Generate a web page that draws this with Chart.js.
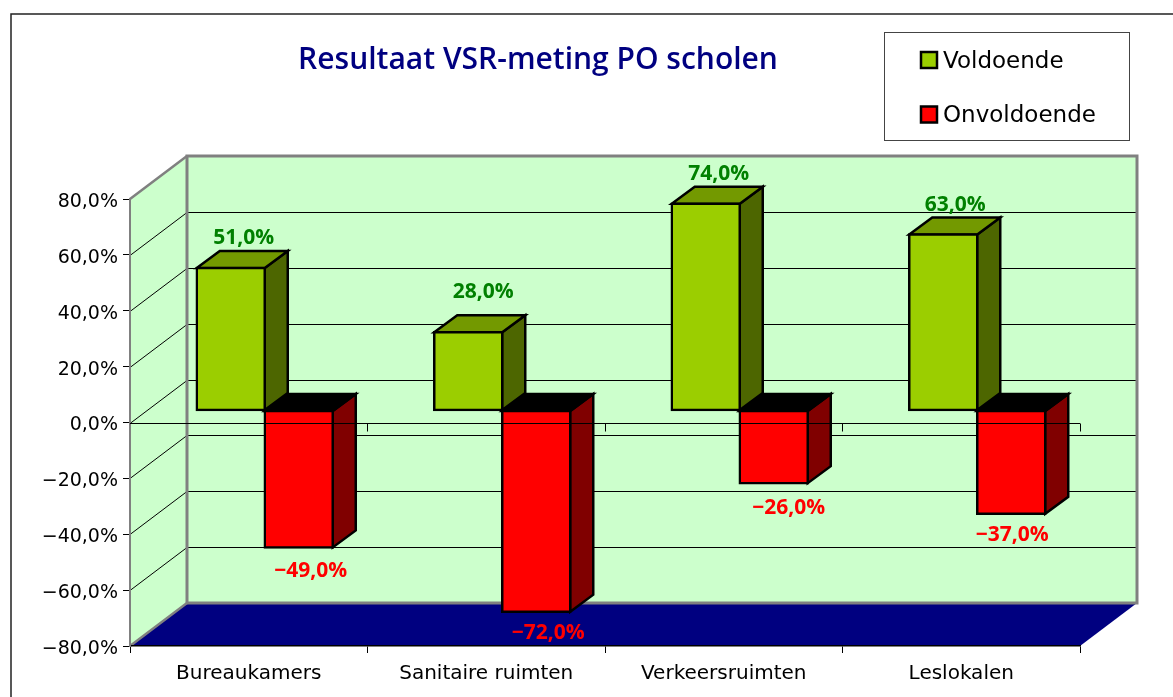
<!DOCTYPE html>
<html>
<head>
<meta charset="utf-8">
<title>Resultaat VSR-meting PO scholen</title>
<script src="https://cdn.jsdelivr.net/npm/chart.js"></script>
<style>
  html, body { margin: 0; padding: 0; background: #fff; overflow: hidden; }
  canvas { display: block; }
</style>
</head>
<body>
<canvas id="myChart" width="1173" height="697"></canvas>
<script>
const chartTitle = "Resultaat VSR-meting PO scholen";
const categories = ["Bureaukamers", "Sanitaire ruimten", "Verkeersruimten", "Leslokalen"];
const voldoende = [51, 28, 74, 63];
const onvoldoende = [-49, -72, -26, -37];
const yTicks = [-80, -60, -40, -20, 0, 20, 40, 60, 80];

// hand placed data labels in the original, [dx, dy] from the bar front
const labelShiftGreen = [[13, -30], [15, -40], [13, -30], [12, -29]];
const labelShiftRed = [[12, 24], [12, 21], [15, 25], [1, 21]];

const FONT = "'DejaVu Sans'";
const LABEL_FONT = "'Open Sans'";
const WALL_X = 57, WALL_Y = -43;  // depth of the walls
const BAR_X = 16, BAR_Y = -12;    // where the bars stand in that depth
const SIDE_X = 23, SIDE_Y = -17;  // depth of the bars

function pct(v) {
  return v.toFixed(1).replace(".", ",").replace("-", "\u2212") + "%";
}

function poly(ctx, pts, fill, stroke, lw) {
  ctx.beginPath();
  pts.forEach((p, i) => i ? ctx.lineTo(p[0], p[1]) : ctx.moveTo(p[0], p[1]));
  ctx.closePath();
  if (fill) { ctx.fillStyle = fill; ctx.fill(); }
  if (stroke) { ctx.strokeStyle = stroke; ctx.lineWidth = lw; ctx.lineJoin = "miter"; ctx.stroke(); }
}

const scene3d = {
  id: "scene3d",
  beforeDraw(chart) {
    const ctx = chart.ctx, a = chart.chartArea, y = chart.scales.y;
    ctx.save();
    ctx.fillStyle = "#fff";
    ctx.fillRect(0, 0, chart.width, chart.height);

    // outer frame, runs off the right and bottom of the page
    ctx.strokeStyle = "#222";
    ctx.lineWidth = 1.5;
    ctx.strokeRect(11, 14, 1400, 900);

    // title
    ctx.fillStyle = "#000080";
    ctx.font = "600 30px " + LABEL_FONT;
    ctx.textAlign = "center";
    ctx.textBaseline = "middle";
    ctx.fillText(chartTitle, 538, 60);

    // legend
    ctx.strokeStyle = "#444";
    ctx.lineWidth = 1;
    ctx.strokeRect(884.5, 32.5, 245, 108);
    chart.data.datasets.forEach((ds, i) => {
      const cy = 60 + i * 54.5;
      ctx.fillStyle = ds.backgroundColor;
      ctx.fillRect(921, cy - 8, 16, 16);
      ctx.strokeStyle = "#000";
      ctx.lineWidth = 2.5;
      ctx.strokeRect(921, cy - 8, 16, 16);
      ctx.fillStyle = "#000";
      ctx.font = "23px " + FONT;
      ctx.textAlign = "left";
      ctx.fillText(ds.label, 943, cy + 2);
    });

    // walls and floor
    const L = a.left, R = a.right, T = y.getPixelForValue(80), B = y.getPixelForValue(-80);
    poly(ctx, [[L, T], [L + WALL_X, T + WALL_Y], [L + WALL_X, B + WALL_Y], [L, B]], "#CCFFCC");
    poly(ctx, [[L + WALL_X, T + WALL_Y], [R + WALL_X, T + WALL_Y], [R + WALL_X, B + WALL_Y], [L + WALL_X, B + WALL_Y]], "#CCFFCC");
    poly(ctx, [[L, B], [R, B], [R + WALL_X, B + WALL_Y], [L + WALL_X, B + WALL_Y]], "#000080");

    // grid on the side wall and the back wall
    ctx.strokeStyle = "#000";
    ctx.lineWidth = 1;
    yTicks.slice(1, -1).forEach(v => {
      const py = Math.round(y.getPixelForValue(v)) + 0.5;
      ctx.beginPath();
      ctx.moveTo(L, py);
      ctx.lineTo(L + WALL_X, py + WALL_Y);
      ctx.lineTo(R + WALL_X, py + WALL_Y);
      ctx.stroke();
    });

    // wall edges
    ctx.strokeStyle = "#808080";
    ctx.lineWidth = 3;
    ctx.strokeRect(L + WALL_X, T + WALL_Y, R - L, B - T);
    ctx.lineWidth = 2.5;
    ctx.beginPath();
    ctx.moveTo(L, T); ctx.lineTo(L + WALL_X, T + WALL_Y);
    ctx.moveTo(L, B); ctx.lineTo(L + WALL_X, B + WALL_Y);
    ctx.stroke();
    ctx.restore();
  },
  beforeDatasetDraw(chart, args) {
    const ctx = chart.ctx;
    const ds = chart.data.datasets[args.index];
    ctx.save();
    ctx.translate(BAR_X, BAR_Y);
    // side and top of each bar, the library draws the front after this
    args.meta.data.forEach(el => {
      const b = el.getProps(["x", "y", "base", "width"], true);
      const x0 = b.x - b.width / 2, x1 = b.x + b.width / 2;
      const top = Math.min(b.y, b.base), bot = Math.max(b.y, b.base);
      poly(ctx, [[x1, top], [x1 + SIDE_X, top + SIDE_Y], [x1 + SIDE_X, bot + SIDE_Y], [x1, bot]], ds.sideColor, "#000", 2.5);
      poly(ctx, [[x0, top], [x0 + SIDE_X, top + SIDE_Y], [x1 + SIDE_X, top + SIDE_Y], [x1, top]], ds.topColor, "#000", 2.5);
    });
  },
  afterDatasetDraw(chart) {
    chart.ctx.restore();
  },
  afterDatasetsDraw(chart) {
    const ctx = chart.ctx, a = chart.chartArea, x = chart.scales.x, y = chart.scales.y;
    ctx.save();
    // axis line at zero runs over the bars, with its own ticks
    const zero = Math.round(y.getPixelForValue(0)) + 0.5;
    ctx.strokeStyle = "#000";
    ctx.lineWidth = 1;
    ctx.beginPath();
    ctx.moveTo(a.left, zero);
    ctx.lineTo(a.right, zero);
    categories.forEach((c, i) => {
      const tx = Math.floor(x.getPixelForValue(i) + (a.right - a.left) / categories.length / 2) + 0.5;
      ctx.moveTo(tx, zero);
      ctx.lineTo(tx, zero + 8);
    });
    ctx.stroke();

    // data labels
    ctx.font = "700 21px " + LABEL_FONT;
    ctx.textAlign = "center";
    ctx.textBaseline = "middle";
    chart.data.datasets.forEach((ds, d) => {
      const shifts = d === 0 ? labelShiftGreen : labelShiftRed;
      chart.getDatasetMeta(d).data.forEach((el, i) => {
        const b = el.getProps(["x", "y"], true);
        ctx.fillStyle = ds.labelColor;
        ctx.fillText(pct(ds.data[i]), b.x + BAR_X + shifts[i][0], b.y + BAR_Y + shifts[i][1]);
      });
    });
    ctx.restore();
  }
};

new Chart(document.getElementById("myChart"), {
  type: "bar",
  data: {
    labels: categories,
    datasets: [
      { label: "Voldoende", data: voldoende, backgroundColor: "#9BCE00", sideColor: "#4D6600", topColor: "#739900", labelColor: "#008000", clip: false },
      { label: "Onvoldoende", data: onvoldoende, backgroundColor: "#FF0000", sideColor: "#800000", topColor: "#000000", labelColor: "#FF0000", clip: false }
    ]
  },
  options: {
    responsive: false,
    animation: false,
    layout: { padding: { top: 199, right: 93, left: 0, bottom: 0 } },
    categoryPercentage: 0.5726,
    barPercentage: 1,
    borderColor: "#000",
    borderWidth: 2.5,
    borderSkipped: false,
    inflateAmount: 1.25,
    plugins: {
      legend: { display: false },
      title: { display: false },
      tooltip: { enabled: false }
    },
    scales: {
      x: {
        afterFit(s) { s.height = 51; },
        border: { color: "#000", width: 1.5 },
        grid: { drawOnChartArea: false, tickLength: 7, tickColor: "#000", offset: true },
        ticks: {
          color: "#000",
          padding: 9,
          maxRotation: 0,
          autoSkip: false,
          font: { family: FONT, size: 20 }
        }
      },
      y: {
        min: -80,
        max: 80,
        afterFit(s) { s.width = 130; },
        border: { color: "#808080", width: 2 },
        grid: { drawOnChartArea: false, tickLength: 7, tickColor: "#000" },
        ticks: {
          stepSize: 20,
          color: "#000",
          padding: 5,
          labelOffset: 3,
          font: { family: FONT, size: 19 },
          callback: v => pct(v)
        }
      }
    }
  },
  plugins: [scene3d]
});
</script>
</body>
</html>
